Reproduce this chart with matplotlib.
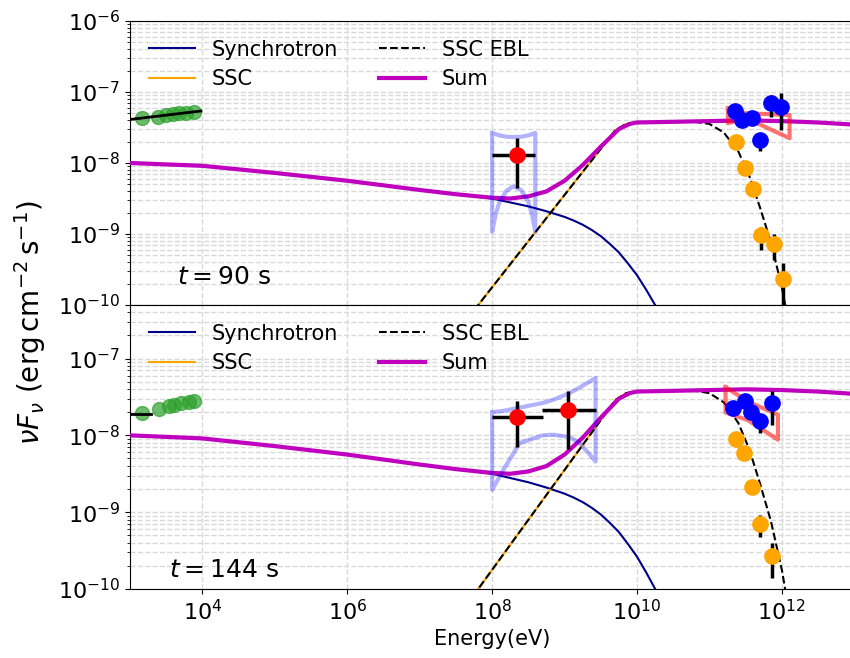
import matplotlib
matplotlib.use("Agg")
import matplotlib.pyplot as plt
from matplotlib.ticker import NullLocator, NullFormatter, LogLocator

# ---------------- model curves (eV, erg cm^-2 s^-1) ----------------
sync_e = [1e3, 1e4, 1e5, 1e6, 1e7, 3.16e7, 1e8, 3.16e8, 5.62e8, 1e9, 1.33e9,
          1.78e9, 2.37e9, 3.16e9, 4.22e9, 5.62e9, 7.5e9, 1e10, 1.33e10, 1.78e10,
          2.37e10, 3.16e10]
sync_f = [1.00e-8, 9.12e-9, 7.24e-9, 5.62e-9, 4.17e-9, 3.63e-9, 3.16e-9, 2.45e-9,
          2.09e-9, 1.74e-9, 1.55e-9, 1.35e-9, 1.14e-9, 9.33e-10, 7.24e-10,
          5.50e-10, 3.85e-10, 2.63e-10, 1.66e-10, 1.0e-10, 5.5e-11, 2.8e-11]

ssc_e = [1e7, 5.01e9, 7.08e9, 1e10, 3.16e10, 1e11, 3.16e11, 1e12, 3.16e12, 1e13]
ssc_f = [8.9e-12, 2.88e-8, 3.55e-8, 3.72e-8, 3.80e-8, 3.89e-8, 3.98e-8, 3.89e-8,
         3.72e-8, 3.47e-8]

ebl_e = [1e7, 5.01e9, 7.08e9, 1e10, 3.16e10, 6.31e10, 1e11, 1.58e11, 2.51e11,
         3.55e11, 5.01e11, 7.08e11, 1e12, 1.26e12]
ebl_f = [8.9e-12, 2.88e-8, 3.55e-8, 3.72e-8, 3.80e-8, 3.80e-8, 3.55e-8, 2.69e-8,
         1.45e-8, 6.61e-9, 2.34e-9, 7.59e-10, 1.78e-10, 5.0e-11]

sum_e = [1e3, 1e4, 1e5, 1e6, 1e7, 3.16e7, 1e8, 1.78e8, 3.16e8, 5.62e8, 1e9,
         1.78e9, 3.16e9, 5.62e9, 7.94e9, 1e10, 3.16e10, 1e11, 3.16e11, 1e12,
         3.16e12, 1e13]
sum_f = [1.00e-8, 9.12e-9, 7.24e-9, 5.62e-9, 4.17e-9, 3.63e-9, 3.24e-9, 3.16e-9,
         3.39e-9, 3.98e-9, 5.62e-9, 9.33e-9, 1.70e-8, 3.0e-8, 3.55e-8, 3.72e-8,
         3.80e-8, 3.89e-8, 3.98e-8, 3.89e-8, 3.72e-8, 3.47e-8]

# ---------------- t = 90 s ----------------
xray_e_90 = [1.47e3, 2.42e3, 3.16e3, 3.89e3, 4.79e3, 5.96e3, 7.52e3]
xray_f_90 = [4.35e-8, 4.49e-8, 4.74e-8, 4.90e-8, 5.01e-8, 5.13e-8, 5.28e-8]
xray_fit_e_90 = [1e3, 9.5e3]
xray_fit_f_90 = [4.1e-8, 5.4e-8]

lat_e_90 = [2.2e8]
lat_elo_90 = [1.0e8]
lat_ehi_90 = [3.94e8]
lat_f_90 = [1.30e-8]
lat_flo_90 = [4.41e-9]
lat_fhi_90 = [2.23e-8]

lat_bt_e_90 = [1.0e8, 1.12e8, 1.26e8, 1.58e8, 1.95e8, 2.51e8, 3.16e8, 3.55e8, 3.94e8]
lat_bt_hi_90 = [2.65e-8, 2.55e-8, 2.45e-8, 2.34e-8, 2.32e-8, 2.34e-8, 2.45e-8, 2.55e-8, 2.65e-8]
lat_bt_lo_90 = [1.07e-9, 1.9e-9, 2.82e-9, 4.07e-9, 4.68e-9, 4.17e-9, 2.82e-9, 1.9e-9, 1.07e-9]

vhe_e_90 = [2.28e11, 2.81e11, 3.86e11, 4.93e11, 7.16e11, 9.84e11]
vhe_f_90 = [5.46e-8, 4.04e-8, 4.27e-8, 2.11e-8, 6.93e-8, 6.21e-8]
vhe_flo_90 = [4.9e-8, 3.6e-8, 3.8e-8, 1.49e-8, 4.49e-8, 2.92e-8]
vhe_fhi_90 = [6.0e-8, 4.5e-8, 4.7e-8, 2.6e-8, 9.08e-8, 9.59e-8]

deabs_e_90 = [2.35e11, 3.06e11, 3.99e11, 5.09e11, 7.71e11, 1.035e12]
deabs_f_90 = [1.96e-8, 8.59e-9, 4.27e-9, 9.59e-10, 7.23e-10, 2.32e-10]
deabs_flo_90 = [1.75e-8, 7.6e-9, 3.8e-9, 5.96e-10, 4.31e-10, 6e-11]
deabs_fhi_90 = [2.2e-8, 9.7e-9, 4.8e-9, 1.27e-9, 1.0e-9, 3.91e-10]

vhe_bt_e_90 = [1.8e11, 3.24e11, 1.28e12]
vhe_bt_hi_90 = [5.89e-8, 5.0e-8, 4.74e-8]
vhe_bt_lo_90 = [3.63e-8, 4.27e-8, 2.23e-8]

# ---------------- t = 144 s ----------------
xray_e_144 = [1.47e3, 2.49e3, 3.42e3, 4.10e3, 5.08e3, 6.61e3, 7.52e3]
xray_f_144 = [1.95e-8, 2.20e-8, 2.38e-8, 2.51e-8, 2.64e-8, 2.74e-8, 2.80e-8]
xray_fit_e_144 = [1e3, 1.95e3]
xray_fit_f_144 = [1.9e-8, 1.9e-8]

lat_e_144 = [2.19e8, 1.13e9]
lat_elo_144 = [1.0e8, 4.92e8]
lat_ehi_144 = [5.0e8, 2.68e9]
lat_f_144 = [1.73e-8, 2.16e-8]
lat_flo_144 = [7.03e-9, 6.64e-9]
lat_fhi_144 = [2.77e-8, 3.73e-8]

lat_bt_e_144 = [1.0e8, 1.41e8, 1.74e8, 2.40e8, 5.0e8, 6.92e8, 1.17e9, 1.62e9, 2.68e9]
lat_bt_hi_144 = [2.0e-8, 2.08e-8, 2.16e-8, 2.3e-8, 2.64e-8, 2.9e-8, 3.55e-8, 4.2e-8, 5.58e-8]
lat_bt_lo_144 = [1.95e-9, 3.5e-9, 4.81e-9, 7.94e-9, 1.0e-8, 1.02e-8, 9.5e-9, 7.94e-9, 4.57e-9]

vhe_e_144 = [2.11e11, 3.06e11, 3.79e11, 5.05e11, 7.40e11]
vhe_f_144 = [2.27e-8, 2.77e-8, 1.99e-8, 1.55e-8, 2.64e-8]
vhe_flo_144 = [2.0e-8, 2.45e-8, 1.75e-8, 1.07e-8, 1.37e-8]
vhe_fhi_144 = [2.55e-8, 3.1e-8, 2.25e-8, 1.8e-8, 3.73e-8]

deabs_e_144 = [2.30e11, 3.00e11, 3.92e11, 4.93e11, 7.40e11]
deabs_f_144 = [8.95e-9, 5.87e-9, 2.12e-9, 7.03e-10, 2.69e-10]
deabs_flo_144 = [7.16e-9, 5.2e-9, 1.9e-9, 4.81e-10, 1.39e-10]
deabs_fhi_144 = [1.0e-8, 6.6e-9, 2.35e-9, 9.23e-10, 3.98e-10]

vhe_bt_e_144 = [1.67e11, 3.39e11, 8.83e11]
vhe_bt_hi_144 = [4.26e-8, 2.75e-8, 1.86e-8]
vhe_bt_lo_144 = [1.99e-8, 1.58e-8, 8.8e-9]

energy_ticks = [1e4, 1e6, 1e8, 1e10, 1e12]

panels = [
    dict(label=r"$t=90$ s", ylim=(1e-10, 1e-6), text_y=0.10,
         yticks=[1e-10, 1e-9, 1e-8, 1e-7, 1e-6],
         xray=(xray_e_90, xray_f_90), xfit=(xray_fit_e_90, xray_fit_f_90),
         lat=(lat_e_90, lat_elo_90, lat_ehi_90, lat_f_90, lat_flo_90, lat_fhi_90),
         latbt=(lat_bt_e_90, lat_bt_hi_90, lat_bt_lo_90),
         vhe=(vhe_e_90, vhe_f_90, vhe_flo_90, vhe_fhi_90),
         deabs=(deabs_e_90, deabs_f_90, deabs_flo_90, deabs_fhi_90),
         vhebt=(vhe_bt_e_90, vhe_bt_hi_90, vhe_bt_lo_90)),
    dict(label=r"$t=144$ s", ylim=(1e-10, 5e-7), text_y=0.067,
         yticks=[1e-10, 1e-9, 1e-8, 1e-7],
         xray=(xray_e_144, xray_f_144), xfit=(xray_fit_e_144, xray_fit_f_144),
         lat=(lat_e_144, lat_elo_144, lat_ehi_144, lat_f_144, lat_flo_144, lat_fhi_144),
         latbt=(lat_bt_e_144, lat_bt_hi_144, lat_bt_lo_144),
         vhe=(vhe_e_144, vhe_f_144, vhe_flo_144, vhe_fhi_144),
         deabs=(deabs_e_144, deabs_f_144, deabs_flo_144, deabs_fhi_144),
         vhebt=(vhe_bt_e_144, vhe_bt_hi_144, vhe_bt_lo_144)),
]


def butterfly(ax, e, hi, lo, color, alpha):
    xs = list(e) + list(e[::-1]) + [e[0]]
    ys = list(hi) + list(lo[::-1]) + [hi[0]]
    ax.plot(xs, ys, color=color, alpha=alpha, lw=3, zorder=4)


def points(ax, e, f, flo, fhi, color, ms=11):
    yerr = [[v - l for v, l in zip(f, flo)], [h - v for v, h in zip(f, fhi)]]
    ax.errorbar(e, f, yerr=yerr, fmt="o", color=color, ecolor="k",
                elinewidth=2.5, capsize=0, ms=ms, zorder=6)


fig = plt.figure(figsize=(8.5, 6.58), dpi=100)
ax_top = fig.add_axes([0.153, 0.5365, 0.852, 0.4316])
ax_bot = fig.add_axes([0.153, 0.105, 0.852, 0.4316], sharex=ax_top)

for ax, p in zip([ax_top, ax_bot], panels):
    ax.set_xscale("log")
    ax.set_yscale("log")
    ax.plot(sync_e, sync_f, color="darkblue", lw=1.5, label="Synchrotron", zorder=2)
    ax.plot(ssc_e, ssc_f, color="orange", lw=1.5, label="SSC", zorder=2)
    ax.plot(ebl_e, ebl_f, color="k", ls="--", lw=1.5, label="SSC EBL", zorder=3)
    ax.plot(sum_e, sum_f, color="m", lw=3, label="Sum", zorder=3)

    xe, xf = p["xray"]
    ax.plot(xe, xf, "o", color="tab:green", alpha=0.7, ms=10, mec="tab:green", zorder=5)
    fe, ff = p["xfit"]
    ax.plot(fe, ff, color="k", lw=2, zorder=6)

    be, bhi, blo = p["latbt"]
    butterfly(ax, be, bhi, blo, "blue", 0.3)
    le, lelo, lehi, lf, lflo, lfhi = p["lat"]
    xerr = [[v - l for v, l in zip(le, lelo)], [h - v for v, h in zip(le, lehi)]]
    yerr = [[v - l for v, l in zip(lf, lflo)], [h - v for v, h in zip(lf, lfhi)]]
    ax.errorbar(le, lf, xerr=xerr, yerr=yerr, fmt="o", color="red", ecolor="k",
                elinewidth=2.5, capsize=0, ms=11, zorder=6)

    ve, vhi, vlo = p["vhebt"]
    butterfly(ax, ve, vhi, vlo, "red", 0.55)
    points(ax, *p["vhe"], color="blue")
    points(ax, *p["deabs"], color="orange")

    ax.set_xlim(1e3, 1e13)
    ax.set_xticks(energy_ticks)
    ax.xaxis.set_minor_locator(NullLocator())
    ax.set_yticks(p["yticks"])
    ax.yaxis.set_minor_locator(LogLocator(base=10, subs=range(2, 10), numticks=20))
    ax.yaxis.set_minor_formatter(NullFormatter())
    ax.set_ylim(*p["ylim"])
    ax.tick_params(labelsize=16)
    ax.grid(True, which="major", axis="x", ls="--", color="0.85", lw=1)
    ax.grid(True, which="both", axis="y", ls="--", color="0.85", lw=1)
    ax.set_axisbelow(True)
    ax.legend(loc="upper left", ncol=2, frameon=False, fontsize=15,
              handlelength=2.2, labelspacing=0.45)
    ax.text(0.13, p["text_y"], p["label"], transform=ax.transAxes,
            ha="center", va="center", fontsize=18)

ax_top.tick_params(labelbottom=False)
ax_bot.set_xlabel("Energy(eV)", fontsize=15)
fig.text(0.035, 0.51, r"$\nu F_\nu\ (\mathrm{erg\,cm^{-2}\,s^{-1}})$",
         rotation=90, ha="center", va="center", fontsize=20)

fig.savefig("out.png", dpi=100)
